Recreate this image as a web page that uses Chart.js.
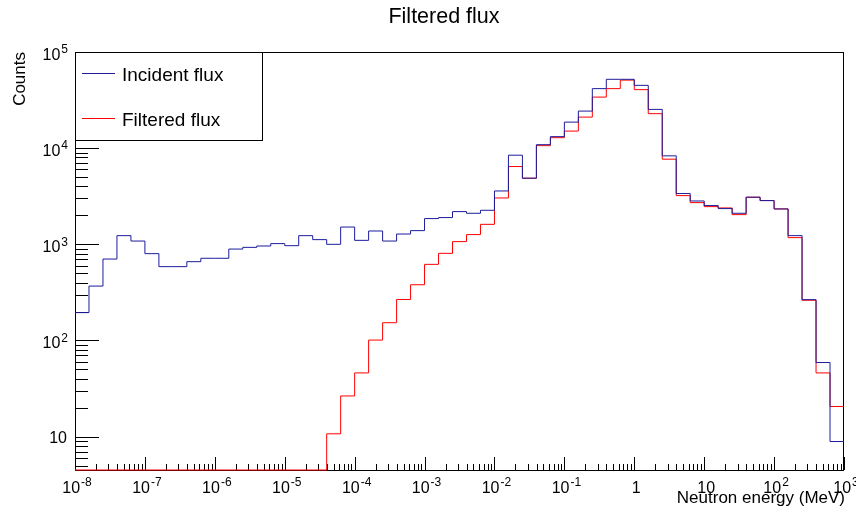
<!DOCTYPE html>
<html>
<head>
<meta charset="utf-8">
<script src="https://cdn.jsdelivr.net/npm/chart.js@4"></script>
<style>
  html, body { margin: 0; padding: 0; background: #fff; }
  canvas { display: block; }
</style>
</head>
<body>
<canvas id="flux" width="856" height="508"></canvas>
<script>
// binning: 5 log bins per decade, 1e-8 .. 1e3 MeV
const LOG_E_MIN = -8;
const LOG_E_MAX = 3;
const BINS_PER_DECADE = 5;
const Y_MIN = 4.5;
const Y_MAX = 1e5;

// counts per bin
const INCIDENT = [195, 368, 703, 1231, 1082, 800, 586, 586, 660, 716, 716, 893, 930, 961, 1017,
  968, 1231, 1119, 1000, 1513, 1100, 1376, 1082, 1280, 1388, 1852, 1897, 2189, 2103, 2259,
  3589, 8450, 4870, 10870, 13180, 18660, 24300, 41600, 52000, 52000, 45000, 25300, 8320, 3374, 2824,
  2530, 2353, 2103, 3090, 2850, 2333, 1231, 266, 59, 8.9];
const FILTERED = [0, 0, 0, 0, 0, 0, 0, 0, 0, 0, 0, 0, 0, 0, 0, 0, 0, 0,
  10.7, 26.5, 46, 101, 153, 267, 380, 619, 806, 1067, 1262, 1614,
  3035, 6440, 4870, 10620, 12850, 15050, 21040, 33960, 41600, 51000, 40600, 22840, 7680, 3210, 2715,
  2466, 2390, 2037, 3090, 2850, 2333, 1174, 262, 46, 20.6];

const X_TICK_EXPONENTS = [-8, -7, -6, -5, -4, -3, -2, -1, 0, 1, 2, 3];
const Y_TICK_EXPONENTS = [1, 2, 3, 4, 5];
const LEGEND_LABELS = ['Incident flux', 'Filtered flux'];
const COLORS = ['#1c1c9c', '#ff0000'];

const nBins = (LOG_E_MAX - LOG_E_MIN) * BINS_PER_DECADE;
const edges = [];
for (let i = 0; i <= nBins; i++) edges.push(Math.pow(10, LOG_E_MIN + i / BINS_PER_DECADE));

// histogram as a step line: one point per lower edge + closing point
const toSteps = (counts) => {
  const pts = counts.map((c, i) => ({ x: edges[i], y: c > 0 ? c : Y_MIN })); // empty bins sit on the floor like ROOT
  pts.push({ x: edges[nBins], y: pts[pts.length - 1].y });
  return pts;
};

const FONT = '"Liberation Sans", Arial, sans-serif';

// "10^n" label, x centred or right aligned
const drawPow = (ctx, exp, x, y, align, size) => {
  const base = '10';
  const sup = String(exp);
  ctx.font = `${size}px ${FONT}`;
  const wb = ctx.measureText(base).width;
  ctx.font = `${Math.round(size * 0.72)}px ${FONT}`;
  const ws = ctx.measureText(sup).width;
  const total = wb + ws + 1;
  const x0 = align === 'center' ? x - total / 2 : x - total;
  ctx.textAlign = 'left';
  ctx.font = `${size}px ${FONT}`;
  ctx.fillText(base, x0, y);
  ctx.font = `${Math.round(size * 0.72)}px ${FONT}`;
  ctx.fillText(sup, x0 + wb + 1, y - size * 0.42);
};

const rootFrame = {
  id: 'rootFrame',
  // frame, ticks and labels go under the histograms
  beforeDatasetsDraw(chart) {
    const ctx = chart.ctx;
    const a = chart.chartArea;
    const xs = chart.scales.x;
    const ys = chart.scales.y;
    ctx.save();
    ctx.strokeStyle = '#000';
    ctx.fillStyle = '#000';
    ctx.lineWidth = 1;

    ctx.beginPath();
    for (let d = LOG_E_MIN; d <= LOG_E_MAX; d++) {
      for (let m = 1; m <= 9; m++) {
        const v = m * Math.pow(10, d);
        if (v > Math.pow(10, LOG_E_MAX) * 1.0001) break;
        const px = Math.round(xs.getPixelForValue(v)) + 0.5;
        const len = m === 1 ? 13 : 6;
        ctx.moveTo(px, a.bottom);
        ctx.lineTo(px, a.bottom - len);
      }
    }
    for (let d = 0; d <= 5; d++) {
      for (let m = 1; m <= 9; m++) {
        const v = m * Math.pow(10, d);
        if (v < Y_MIN || v > Y_MAX * 1.0001) continue;
        const py = Math.round(ys.getPixelForValue(v)) + 0.5;
        const len = m === 1 ? 24 : 13;
        ctx.moveTo(a.left, py);
        ctx.lineTo(a.left + len, py);
      }
    }
    ctx.stroke();

    ctx.strokeRect(a.left + 0.5, a.top + 0.5, a.right - a.left - 1, a.bottom - a.top);

    ctx.textBaseline = 'alphabetic';
    X_TICK_EXPONENTS.forEach((e) => {
      const px = xs.getPixelForValue(Math.pow(10, e));
      if (e === 0 || e === 1) {
        ctx.font = `16px ${FONT}`;
        ctx.textAlign = 'center';
        ctx.fillText(e === 0 ? '1' : '10', px + 2, 493);
      } else {
        drawPow(ctx, e, px + 2, 493, 'center', 16);
      }
    });

    Y_TICK_EXPONENTS.forEach((e) => {
      const py = ys.getPixelForValue(Math.pow(10, e));
      if (e === 1) {
        ctx.font = `16px ${FONT}`;
        ctx.textAlign = 'right';
        ctx.fillText('10', 67, py + 6);
      } else {
        drawPow(ctx, e, 68, py + 8, 'right', 16);
      }
    });

    ctx.font = `21.5px ${FONT}`;
    ctx.textAlign = 'center';
    ctx.fillText('Filtered flux', 444, 23);
    ctx.font = `17px ${FONT}`;
    ctx.textAlign = 'right';
    ctx.fillText('Neutron energy (MeV)', 845, 503);
    ctx.save();
    ctx.translate(25, 52);
    ctx.rotate(-Math.PI / 2);
    ctx.textAlign = 'right';
    ctx.fillText('Counts', 0, 0);
    ctx.restore();
    ctx.restore();
  },
  // legend box on top
  afterDraw(chart) {
    const ctx = chart.ctx;
    const a = chart.chartArea;
    ctx.save();
    ctx.lineWidth = 1;
    ctx.fillStyle = '#fff';
    ctx.fillRect(a.left, a.top, 188, 88);
    ctx.strokeStyle = '#000';
    ctx.strokeRect(a.left + 0.5, a.top + 0.5, 187, 88);
    const rowsY = [73.5, 118.5];
    LEGEND_LABELS.forEach((label, i) => {
      ctx.strokeStyle = COLORS[i];
      ctx.beginPath();
      ctx.moveTo(82, rowsY[i]);
      ctx.lineTo(115, rowsY[i]);
      ctx.stroke();
      ctx.fillStyle = '#000';
      ctx.font = `19px ${FONT}`;
      ctx.textAlign = 'left';
      ctx.textBaseline = 'alphabetic';
      ctx.fillText(label, 122, rowsY[i] + 7);
    });
    ctx.restore();
  }
};

window.onload = function () {
  const context = document.querySelector('#flux').getContext('2d');
  new Chart(context, {
    type: 'line',
    data: {
      datasets: [
        {
          label: LEGEND_LABELS[0],
          data: toSteps(INCIDENT),
          borderColor: COLORS[0],
          borderWidth: 1,
          stepped: 'before',
          pointRadius: 0,
          fill: false,
          clip: 2,
        },
        {
          label: LEGEND_LABELS[1],
          data: toSteps(FILTERED),
          borderColor: COLORS[1],
          borderWidth: 1,
          stepped: 'before',
          pointRadius: 0,
          fill: false,
          clip: 2,
        },
      ],
    },
    options: {
      responsive: false,
      animation: false,
      layout: { padding: { left: 75, right: 12, top: 52, bottom: 38 } },
      scales: {
        x: { type: 'logarithmic', min: Math.pow(10, LOG_E_MIN), max: Math.pow(10, LOG_E_MAX), display: false },
        y: { type: 'logarithmic', min: Y_MIN, max: Y_MAX, display: false },
      },
      plugins: {
        legend: { display: false },
        title: { display: false },
        tooltip: { enabled: false },
      },
    },
    plugins: [rootFrame],
  });
};
</script>
</body>
</html>
